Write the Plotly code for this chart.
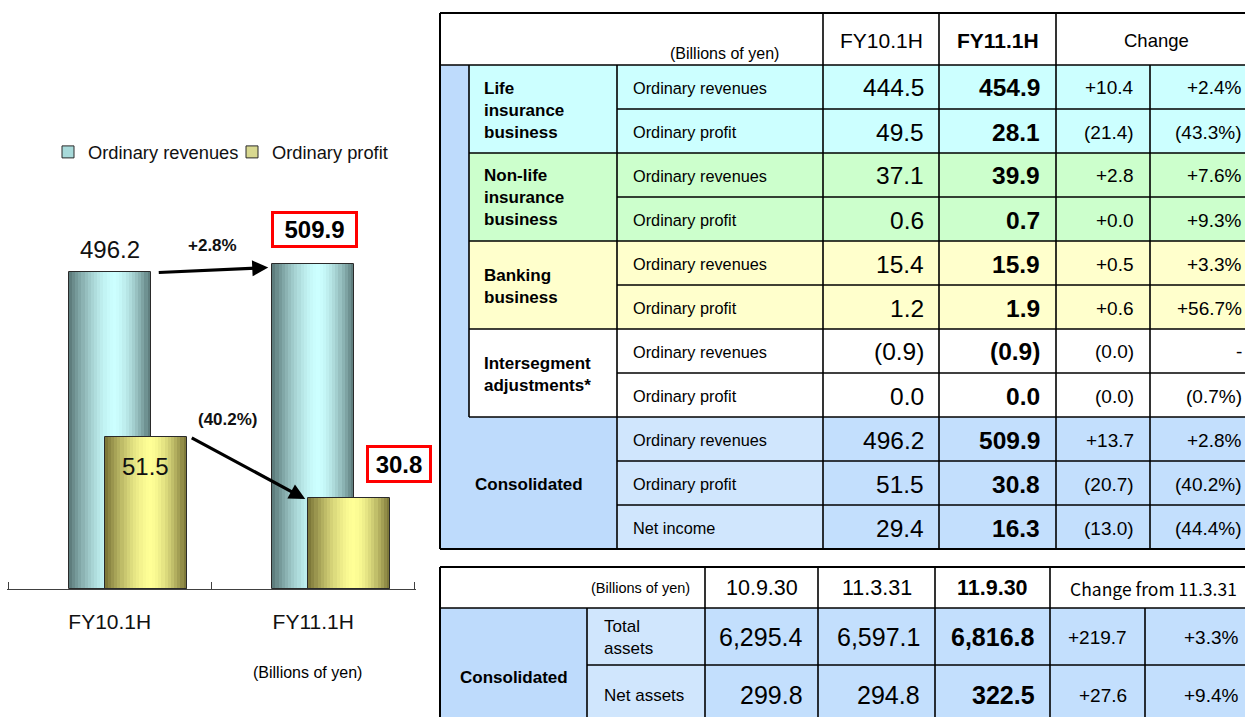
import math
import plotly.graph_objects as go

W, H = 1245, 717
FONT = "Arial, Liberation Sans, sans-serif"
CJK = "Noto Sans CJK JP, sans-serif"

# ---------------- chart data ----------------
periods = ["FY10.1H", "FY11.1H"]
ordinary_revenues = [496.2, 509.9]
ordinary_profit = [51.5, 30.8]
series_names = ["Ordinary revenues", "Ordinary profit"]

# ---------------- segment table data ----------------
seg_names = ["Life<br>insurance<br>business", "Non-life<br>insurance<br>business",
             "Banking<br>business", "Intersegment<br>adjustments*", "Consolidated"]
seg_items = [["Ordinary revenues", "Ordinary profit"],
             ["Ordinary revenues", "Ordinary profit"],
             ["Ordinary revenues", "Ordinary profit"],
             ["Ordinary revenues", "Ordinary profit"],
             ["Ordinary revenues", "Ordinary profit", "Net income"]]
seg_header = ["FY10.1H", "FY11.1H", "Change"]
fy10_values = [444.5, 49.5, 37.1, 0.6, 15.4, 1.2, -0.9, 0.0, 496.2, 51.5, 29.4]
fy11_values = [454.9, 28.1, 39.9, 0.7, 15.9, 1.9, -0.9, 0.0, 509.9, 30.8, 16.3]
change_amounts = [10.4, -21.4, 2.8, 0.0, 0.5, 0.6, -0.0, -0.0, 13.7, -20.7, -13.0]
change_pcts = [2.4, -43.3, 7.6, 9.3, 3.3, 56.7, None, -0.7, 2.8, -40.2, -44.4]

# ---------------- balance sheet table data ----------------
bs_dates = ["10.9.30", "11.3.31", "11.9.30"]
bs_items = ["Total<br>assets", "Net assets"]
total_assets = [6295.4, 6597.1, 6816.8]
net_assets = [299.8, 294.8, 322.5]
bs_change = [219.7, 27.6]
bs_change_pct = [3.3, 9.4]
unit_label = "(Billions of yen)"


def neg(v):
    return math.copysign(1.0, v) < 0


def fmt_val(v):
    s = f"{abs(v):,.1f}"
    return f"({s})" if neg(v) else s


def fmt_chg(v):
    s = f"{abs(v):,.1f}"
    return f"({s})" if neg(v) else f"+{s}"


def fmt_pct(v):
    if v is None:
        return "-"
    s = f"{abs(v):.1f}%"
    return f"({s})" if neg(v) else f"+{s}"


# ---------------- bar chart ----------------
def shade(dark, light, t, peak=0.56, p=1.6):
    if t < peak:
        f = 1 - ((peak - t) / peak) ** p
    else:
        f = 1 - ((t - peak) / (1 - peak)) ** p
    c = [round(d + (l - d) * f) for d, l in zip(dark, light)]
    return f"rgb({c[0]},{c[1]},{c[2]})"


fig = go.Figure()
N = 26
BW = 0.403
specs = [
    (ordinary_revenues, "y", -0.2015, (88, 118, 118), (204, 255, 255), "#a8dada"),
    (ordinary_profit, "y2", -0.025, (118, 112, 52), (255, 255, 150), "#d8d890"),
]
for vals, yax, off, dark, light, _ in specs:
    step = BW / N
    for i in range(N):
        o = off + i * step
        w = min(step * 1.6, off + BW - o)
        fig.add_trace(go.Bar(
            x=periods, y=vals, yaxis=yax, offset=o, width=w,
            marker=dict(color=shade(dark, light, (i + 0.5) / N), line=dict(width=0)),
            showlegend=False, hoverinfo="skip"))
    fig.add_trace(go.Bar(
        x=periods, y=vals, yaxis=yax, offset=off, width=BW,
        marker=dict(color="rgba(0,0,0,0)", line=dict(color="#2a2a2a", width=1)),
        showlegend=False, hoverinfo="skip"))

for k, (name, spec) in enumerate(zip(series_names, specs)):
    fig.add_trace(go.Bar(
        x=periods, y=[None, None], name=name, yaxis=spec[1],
        marker=dict(color=spec[5], line=dict(color="#2a2a2a", width=1)),
        legend="legend" if k == 0 else "legend2", showlegend=True))

ann = []
tc = "#111111"
# value labels
ann.append(dict(x=periods[0], y=ordinary_revenues[0], xref="x", yref="y",
                text=f"{ordinary_revenues[0]:.1f}", showarrow=False, yshift=23,
                font=dict(size=24, family=FONT, color=tc)))
ann.append(dict(x=periods[0], y=ordinary_profit[0], xref="x", yref="y2",
                text=f"{ordinary_profit[0]:.1f}", showarrow=False, xshift=36, yshift=-30,
                font=dict(size=24, family=FONT, color=tc)))
ann.append(dict(x=periods[1], y=ordinary_revenues[1], xref="x", yref="y",
                text=f"<b>{ordinary_revenues[1]:.1f}</b>", showarrow=False, xshift=1, yshift=34.5,
                font=dict(size=24, family=FONT, color="black"), bordercolor="#ff0000",
                borderwidth=3, borderpad=1, width=79, height=29, bgcolor="white"))
ann.append(dict(x=periods[1], y=ordinary_profit[1], xref="x", yref="y2",
                text=f"<b>{ordinary_profit[1]:.1f}</b>", showarrow=False, xshift=86, yshift=34,
                font=dict(size=24, family=FONT, color="black"), bordercolor="#ff0000",
                borderwidth=3, borderpad=1, width=58, height=30, bgcolor="white"))
rev_pct = (ordinary_revenues[1] / ordinary_revenues[0] - 1) * 100
prof_pct = (ordinary_profit[1] / ordinary_profit[0] - 1) * 100
ann.append(dict(x=periods[0], y=ordinary_revenues[0], xref="x", yref="y",
                text=f"<b>{fmt_pct(round(rev_pct, 1))}</b>", showarrow=False, xshift=103, yshift=27,
                font=dict(size=17, family=FONT, color=tc)))
ann.append(dict(x=periods[0], y=ordinary_profit[0], xref="x", yref="y2",
                text=f"<b>{fmt_pct(round(prof_pct, 1))}</b>", showarrow=False, xshift=118, yshift=17,
                font=dict(size=17, family=FONT, color=tc)))
# arrows
ann.append(dict(x=periods[1], y=ordinary_revenues[1], xref="x", yref="y", text="",
                showarrow=True, xshift=-45, yshift=-4, ax=-111, ay=5,
                arrowhead=2, arrowsize=1, arrowwidth=3.2, arrowcolor="black"))
ann.append(dict(x=periods[1], y=ordinary_profit[1], xref="x", yref="y2", text="",
                showarrow=True, xshift=-8, yshift=-1, ax=-115, ay=-62,
                arrowhead=2, arrowsize=1, arrowwidth=3.2, arrowcolor="black"))


def P(x, y):
    return x / W, 1 - y / H


def txt(x, y, s, size, bold=False, xanchor="center", family=FONT):
    px, py = P(x, y)
    ann.append(dict(xref="paper", yref="paper", x=px, y=py,
                    text=f"<b>{s}</b>" if bold else s, showarrow=False,
                    xanchor=xanchor, yanchor="middle", align="left",
                    font=dict(size=size, family=family, color="black")))


txt(307, 672, unit_label, 16)

shapes = []


def rect(x0, y0, x1, y1, fill):
    a, b = P(x0, y0)
    c, d = P(x1, y1)
    shapes.append(dict(type="rect", xref="paper", yref="paper", x0=a, y0=b, x1=c, y1=d,
                       fillcolor=fill, line=dict(width=0), layer="below"))


def line(x0, y0, x1, y1, w=1.6):
    a, b = P(x0, y0)
    c, d = P(x1, y1)
    shapes.append(dict(type="line", xref="paper", yref="paper", x0=a, y0=b, x1=c, y1=d,
                       line=dict(color="black", width=w), layer="above"))


# ---------------- segment table ----------------
BLUE_L = "#bedbfc"
BLUE_I = "#d0e6fd"
BLUE_V = "#c3dffd"
seg_colors = ["#ccffff", "#ccffcc", "#ffffcc", "#ffffff", None]

X0, XS, XN, XI, XA, XB, XC, XR = 440, 469, 617, 823, 939, 1056, 1150, 1257
YT, YH = 13, 65
RH = 44

rect(X0, YT, XR, YH, "white")
r = 0
seg_bounds = []
for s, items in enumerate(seg_items):
    y0 = YH + r * RH
    y1 = y0 + len(items) * RH
    seg_bounds.append((y0, y1))
    if seg_colors[s] is not None:
        rect(XS, y0, XR, y1, seg_colors[s])
        txt(482, (y0 + y1) / 2 + 1, seg_names[s], 17, bold=True, xanchor="left")
    else:
        rect(X0, y0, XN, y1, BLUE_L)
        rect(XN, y0, XI, y1, BLUE_I)
        rect(XI, y0, XR, y1, BLUE_V)
        txt((X0 + XN) / 2, (y0 + y1) / 2 + 1, seg_names[s], 17, bold=True)
    for j, item in enumerate(items):
        k = r + j
        cy = YH + k * RH + RH / 2 + 1
        txt(631, cy, item, 16.3, xanchor="left")
        txt(XA - 13, cy, fmt_val(fy10_values[k]), 24.5, xanchor="right")
        txt(XB - 14, cy, fmt_val(fy11_values[k]), 24.5, bold=True, xanchor="right")
        txt(XC - 14, cy, fmt_chg(change_amounts[k]), 19, xanchor="right")
        txt(1244, cy, fmt_pct(change_pcts[k]), 19, xanchor="right")
        if j > 0:
            line(XN, YH + k * RH, XR, YH + k * RH)
    if s > 0:
        line(XS, y0, XR, y0)
    r += len(items)
YB = YH + r * RH
rect(X0, YH, XS, seg_bounds[-1][0], BLUE_L)

txt(724, 54, unit_label, 16)
txt((XI + XA) / 2, 40, seg_header[0], 21)
txt((XA + XB) / 2, 40, seg_header[1], 21, bold=True)
txt((XB + XR) / 2, 40, seg_header[2], 18.5)

line(X0, YH, XR, YH)
line(XS, YH, XS, seg_bounds[-1][0])
line(XN, YH, XN, YB)
for xv in (XI, XA, XB):
    line(xv, YT, xv, YB)
line(XC, YH, XC, YB)
line(X0, YT, XR, YT, 2)
line(X0, YB, XR, YB, 2)
line(X0, YT, X0, YB, 2)

# ---------------- balance sheet table ----------------
BX = [440, 587, 705, 818, 935, 1050, 1145, 1257]
BY = [567, 608, 665, 724]
rect(BX[0], BY[0], BX[-1], BY[1], "white")
rect(BX[0], BY[1], BX[1], BY[3], BLUE_L)
rect(BX[1], BY[1], BX[2], BY[3], BLUE_I)
rect(BX[2], BY[1], BX[-1], BY[3], BLUE_V)

txt(692, 588, unit_label, 14.5, xanchor="right")
for i, d in enumerate(bs_dates):
    txt((BX[2 + i] + BX[3 + i]) / 2, 588, d, 21.5, bold=(i == 2))
txt((BX[5] + BX[7]) / 2, 588, "Change from " + bs_dates[1], 17.5, family=CJK)
txt((BX[0] + BX[1]) / 2, 677, seg_names[-1], 17, bold=True)
bs_rows = [total_assets, net_assets]
row_cy = [637, 695]
for j, vals in enumerate(bs_rows):
    cy = row_cy[j]
    txt(602, cy, bs_items[j], 17, xanchor="left")
    for i, v in enumerate(vals):
        txt(BX[3 + i] - 13, cy, fmt_val(v), 25, bold=(i == 2), xanchor="right")
    txt(BX[6] - 16, cy, fmt_chg(bs_change[j]), 19, xanchor="right")
    txt(1241, cy, fmt_pct(bs_change_pct[j]), 19, xanchor="right")

line(BX[0], BY[0], BX[-1], BY[0], 2)
line(BX[0], BY[1], BX[-1], BY[1])
line(BX[1], BY[2], BX[-1], BY[2])
line(BX[0], BY[0], BX[0], BY[3], 2)
line(BX[1], BY[1], BX[1], BY[3])
for xv in BX[2:6]:
    line(xv, BY[0], xv, BY[3])
line(BX[6], BY[1], BX[6], BY[3])

# ---------------- layout ----------------
base_px, top_px = 589, 150
span = base_px - top_px
fig.update_layout(
    width=W, height=H, autosize=False,
    margin=dict(l=0, r=0, t=0, b=0, pad=0),
    paper_bgcolor="white", plot_bgcolor="rgba(0,0,0,0)",
    barmode="overlay", bargap=0,
    font=dict(family=FONT, color="black"),
    xaxis=dict(domain=[7 / W, 416 / W], type="category", range=[-0.505, 1.505],
               showline=True, linecolor="#404040", linewidth=1.2,
               ticks="inside", tickson="boundaries", ticklen=7, tickcolor="#404040", tickwidth=1.2,
               tickfont=dict(size=21, family=FONT, color="#111111"),
               ticklabelstandoff=14, showgrid=False, zeroline=False, fixedrange=True),
    yaxis=dict(domain=[1 - base_px / H, 1 - top_px / H], range=[0, span / 0.6382],
               visible=False, showgrid=False, fixedrange=True),
    yaxis2=dict(overlaying="y", range=[0, span / 2.953], visible=False,
                showgrid=False, fixedrange=True),
    legend=dict(x=48 / W, y=1 - 152 / H, xanchor="left", yanchor="middle",
                orientation="h", itemwidth=30, bgcolor="rgba(0,0,0,0)",
                font=dict(size=18.3, family=FONT, color="#111111")),
    legend2=dict(x=232 / W, y=1 - 152 / H, xanchor="left", yanchor="middle",
                 orientation="h", itemwidth=30, bgcolor="rgba(0,0,0,0)",
                 font=dict(size=18.3, family=FONT, color="#111111")),
    annotations=ann, shapes=shapes,
)

fig.write_html("out.html", config={"displayModeBar": False},
               post_script="document.body.style.margin='0';document.body.style.overflow='hidden';")
